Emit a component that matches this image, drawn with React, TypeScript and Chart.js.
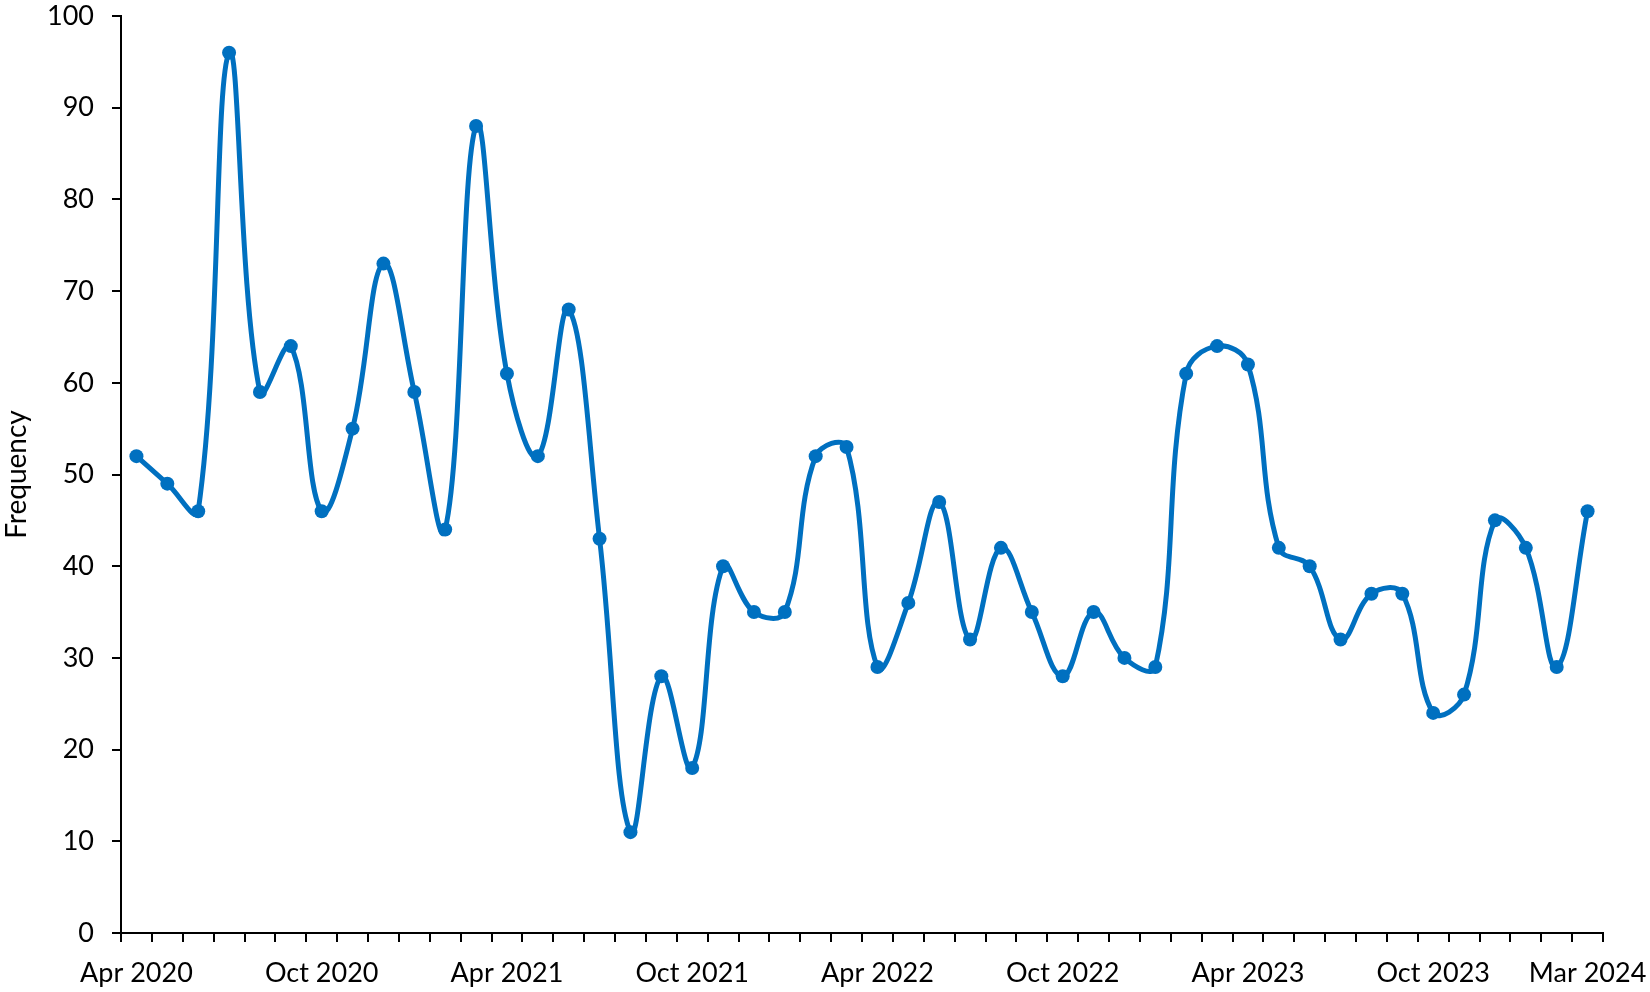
import React, { useEffect, useRef } from "react";
import { Chart, registerables } from "chart.js";

Chart.register(...registerables);

const months: string[] = [
  "Apr 2020", "May 2020", "Jun 2020", "Jul 2020", "Aug 2020", "Sep 2020",
  "Oct 2020", "Nov 2020", "Dec 2020", "Jan 2021", "Feb 2021", "Mar 2021",
  "Apr 2021", "May 2021", "Jun 2021", "Jul 2021", "Aug 2021", "Sep 2021",
  "Oct 2021", "Nov 2021", "Dec 2021", "Jan 2022", "Feb 2022", "Mar 2022",
  "Apr 2022", "May 2022", "Jun 2022", "Jul 2022", "Aug 2022", "Sep 2022",
  "Oct 2022", "Nov 2022", "Dec 2022", "Jan 2023", "Feb 2023", "Mar 2023",
  "Apr 2023", "May 2023", "Jun 2023", "Jul 2023", "Aug 2023", "Sep 2023",
  "Oct 2023", "Nov 2023", "Dec 2023", "Jan 2024", "Feb 2024", "Mar 2024",
];

const frequency: number[] = [
  52, 49, 46, 96, 59, 64, 46, 55, 73, 59, 44, 88,
  61, 52, 68, 43, 11, 28, 18, 40, 35, 35, 52, 53,
  29, 36, 47, 32, 42, 35, 28, 35, 30, 29, 61, 64,
  62, 42, 40, 32, 37, 37, 24, 26, 45, 42, 29, 46,
];

const shownLabels: string[] = [
  "Apr 2020", "Oct 2020", "Apr 2021", "Oct 2021", "Apr 2022",
  "Oct 2022", "Apr 2023", "Oct 2023", "Mar 2024",
];

const FONT = "Lato, 'Open Sans', sans-serif";

export default function App() {
  const ref = useRef<HTMLCanvasElement | null>(null);

  useEffect(() => {
    if (!ref.current) return;
    const chart = new Chart(ref.current, {
      type: "line",
      data: {
        labels: months,
        datasets: [
          {
            label: "Frequency",
            data: frequency,
            borderColor: "#0070C0",
            backgroundColor: "#0070C0",
            borderWidth: 5,
            pointRadius: 7,
            pointHoverRadius: 7,
            pointBackgroundColor: "#0070C0",
            pointBorderColor: "#0070C0",
            pointBorderWidth: 0,
            tension: 0.4,
            fill: false,
          },
        ],
      },
      options: {
        animation: false,
        responsive: false,
        maintainAspectRatio: false,
        layout: { padding: { left: 0, right: 47, top: 16, bottom: 0 } },
        plugins: {
          legend: { display: false },
          tooltip: { enabled: false },
        },
        elements: { line: { capBezierPoints: false } },
        scales: {
          x: {
            type: "category",
            offset: true,
            grid: {
              offset: true,
              drawOnChartArea: false,
              drawTicks: true,
              tickLength: 9,
              color: "#000",
              lineWidth: 2,
            },
            border: { display: true, color: "#000", width: 2 },
            ticks: {
              autoSkip: false,
              maxRotation: 0,
              minRotation: 0,
              padding: 15,
              color: "#000",
              font: { family: FONT, size: 27 },
              callback: function (_v: any, i: number) {
                const l = months[i];
                return shownLabels.includes(l) ? l : "";
              },
            },
            afterFit: (scale: any) => {
              scale.height = 59;
              scale.paddingLeft = 0;
              scale.paddingRight = 0;
            },
          },
          y: {
            min: 0,
            max: 100,
            grid: {
              drawOnChartArea: false,
              drawTicks: true,
              tickLength: 9,
              color: "#000",
              lineWidth: 2,
            },
            border: { display: true, color: "#000", width: 2 },
            ticks: {
              stepSize: 10,
              padding: 18,
              color: "#000",
              font: { family: FONT, size: 27 },
            },
            title: {
              display: true,
              text: "Frequency",
              color: "#000",
              font: { family: FONT, size: 28 },
              padding: { top: 0, bottom: 0 },
            },
            afterFit: (scale: any) => {
              scale.width = 121;
              scale.paddingTop = 0;
              scale.paddingBottom = 0;
            },
          },
        },
      },
    });
    return () => chart.destroy();
  }, []);

  return (
    <div style={{ position: "fixed", left: 0, top: 0, width: 1650, height: 992, background: "#fff" }}>
      <canvas ref={ref} width={1650} height={992} style={{ width: 1650, height: 992, display: "block" }} />
    </div>
  );
}
